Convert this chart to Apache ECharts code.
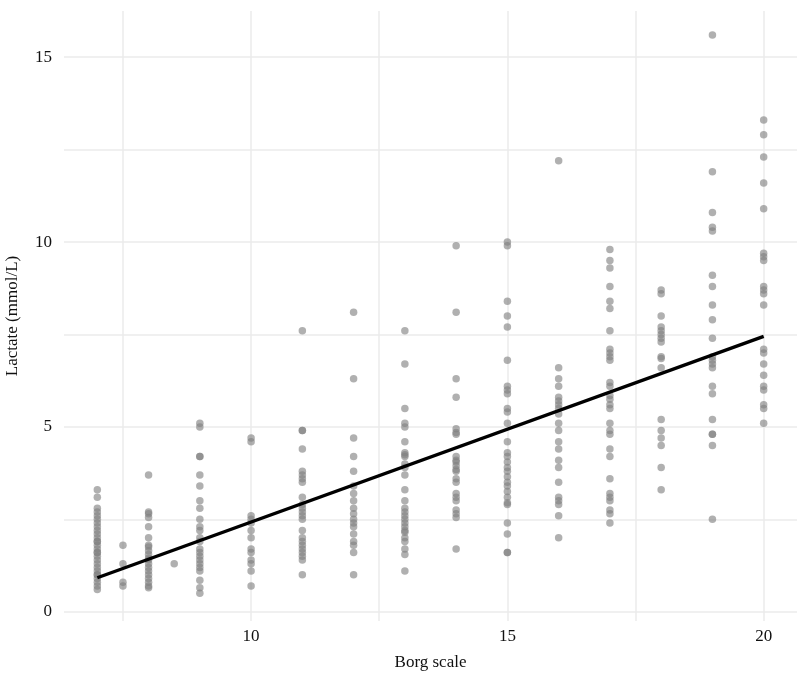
<!DOCTYPE html>
<html>
<head>
<meta charset="utf-8">
<script src="https://cdn.jsdelivr.net/npm/echarts@6/dist/echarts.min.js"></script>
<style>
  html, body { margin: 0; padding: 0; background: #fff; }
  #container { width: 800px; height: 679px; }
</style>
</head>
<body>
<div id="container"></div>
<script>
var dom = document.getElementById('container');
var myChart = echarts.init(dom);

// lactate readings per Borg score
var borg7 = [3.3, 3.1, 2.8, 2.7, 2.6, 2.5, 2.4, 2.2, 2.1, 2.0, 1.9, 1.8, 1.7, 1.6, 1.5, 1.4, 1.3, 1.2, 1.1, 1.0, 0.9, 0.8, 0.7, 0.6, 1.6, 1.9, 1.0, 2.3];
var borg7_5 = [1.8, 1.3, 0.8, 0.7];
var borg8 = [3.7, 2.7, 2.65, 2.55, 2.3, 2.0, 1.8, 1.75, 1.65, 1.55, 1.45, 1.4, 1.3, 1.2, 1.1, 1.0, 0.9, 0.8, 0.7, 0.65];
var borg8_5 = [1.3];
var borg9 = [5.1, 5.0, 4.2, 4.2, 3.7, 3.4, 3.0, 2.8, 2.5, 2.3, 2.2, 2.0, 1.9, 1.7, 1.6, 1.5, 1.4, 1.3, 1.2, 1.1, 0.85, 0.65, 0.5];
var borg10 = [4.7, 4.6, 2.6, 2.5, 2.4, 2.2, 2.0, 1.7, 1.6, 1.4, 1.3, 1.1, 0.7];
var borg11 = [7.6, 4.9, 4.9, 4.4, 3.8, 3.7, 3.6, 3.5, 3.1, 2.9, 2.8, 2.7, 2.6, 2.5, 2.2, 2.0, 1.9, 1.8, 1.7, 1.6, 1.5, 1.4, 1.0];
var borg12 = [8.1, 6.3, 4.7, 4.2, 3.8, 3.4, 3.2, 3.0, 2.8, 2.65, 2.5, 2.4, 2.3, 2.1, 1.9, 1.8, 1.6, 1.0];
var borg13 = [7.6, 6.7, 5.5, 5.1, 5.0, 4.6, 4.3, 4.25, 4.2, 4.0, 3.9, 3.7, 3.3, 3.0, 2.8, 2.7, 2.6, 2.5, 2.4, 2.3, 2.2, 2.15, 2.0, 1.9, 1.7, 1.55, 1.1];
var borg14 = [9.9, 8.1, 6.3, 5.8, 4.95, 4.85, 4.8, 4.2, 4.1, 4.05, 3.95, 3.85, 3.8, 3.6, 3.5, 3.2, 3.1, 3.0, 2.75, 2.65, 2.55, 1.7];
var borg15 = [10.0, 9.9, 8.4, 8.0, 7.7, 6.8, 6.1, 6.0, 5.9, 5.5, 5.4, 5.1, 4.6, 4.3, 4.2, 4.05, 3.9, 3.8, 3.65, 3.5, 3.4, 3.25, 3.1, 2.95, 2.9, 2.4, 2.1, 1.6, 1.6];
var borg16 = [12.2, 6.6, 6.3, 6.1, 5.8, 5.7, 5.6, 5.5, 5.35, 5.1, 4.9, 4.6, 4.4, 4.1, 3.9, 3.5, 3.1, 3.0, 2.9, 2.6, 2.0];
var borg17 = [9.8, 9.5, 9.3, 8.8, 8.4, 8.2, 7.6, 7.1, 7.0, 6.9, 6.8, 6.2, 6.1, 5.85, 5.75, 5.6, 5.5, 5.1, 4.9, 4.8, 4.4, 4.2, 3.6, 3.2, 3.1, 3.0, 2.75, 2.65, 2.4];
var borg18 = [8.7, 8.6, 8.0, 7.7, 7.6, 7.5, 7.4, 7.3, 6.9, 6.85, 6.6, 5.2, 4.9, 4.7, 4.5, 3.9, 3.3];
var borg19 = [15.6, 11.9, 10.8, 10.4, 10.3, 9.1, 8.8, 8.3, 7.9, 7.4, 6.9, 6.8, 6.7, 6.6, 6.1, 5.9, 5.2, 4.8, 4.8, 4.5, 2.5];
var borg20 = [13.3, 12.9, 12.3, 11.6, 10.9, 9.7, 9.6, 9.5, 8.8, 8.7, 8.6, 8.3, 7.1, 7.0, 6.7, 6.4, 6.1, 6.0, 5.6, 5.5, 5.1];

var borgScores = [7, 7.5, 8, 8.5, 9, 10, 11, 12, 13, 14, 15, 16, 17, 18, 19, 20];
var lactateByScore = [borg7, borg7_5, borg8, borg8_5, borg9, borg10, borg11, borg12, borg13, borg14, borg15, borg16, borg17, borg18, borg19, borg20];

// fitted linear trend, end points
var fitX = [7, 20];
var fitY = [0.92, 7.45];

var xTicks = [7.5, 10, 12.5, 15, 17.5, 20];
var xLabels = [10, 15, 20];
var yTicks = [0, 2.5, 5, 7.5, 10, 12.5, 15];
var yLabels = [0, 5, 10, 15];

var points = [];
for (var i = 0; i < borgScores.length; i++) {
    for (var j = 0; j < lactateByScore[i].length; j++) {
        points.push([borgScores[i], lactateByScore[i][j]]);
    }
}
var fitLine = fitX.map(function (x, k) { return [x, fitY[k]]; });

var font = '"Liberation Serif", "DejaVu Serif", serif';
var textColor = '#111';
var gridLine = { show: true, lineStyle: { color: '#ebebeb', width: 1.5 } };

var option = {
    backgroundColor: '#fff',
    animation: false,
    grid: { left: 64, right: 3, top: 11, bottom: 58, containLabel: false, outerBoundsMode: 'none' },
    xAxis: {
        type: 'value',
        min: 6.35,
        max: 20.65,
        name: 'Borg scale',
        nameLocation: 'middle',
        nameGap: 33,
        nameTextStyle: { fontFamily: font, fontSize: 17, color: textColor },
        axisLine: { show: false },
        axisTick: { show: false, customValues: xTicks },
        axisLabel: { customValues: xLabels, fontFamily: font, fontSize: 17, color: textColor, margin: 7 },
        splitLine: gridLine
    },
    yAxis: {
        type: 'value',
        min: -0.25,
        max: 16.25,
        name: 'Lactate (mmol/L)',
        nameLocation: 'middle',
        nameGap: 43,
        nameTextStyle: { fontFamily: font, fontSize: 17, color: textColor },
        axisLine: { show: false },
        axisTick: { show: false, customValues: yTicks },
        axisLabel: { customValues: yLabels, fontFamily: font, fontSize: 17, color: textColor, margin: 12 },
        splitLine: gridLine
    },
    series: [
        {
            type: 'scatter',
            data: points,
            symbolSize: 7.5,
            itemStyle: { color: '#808080', opacity: 0.62 },
            silent: true
        },
        {
            type: 'line',
            data: fitLine,
            showSymbol: false,
            lineStyle: { color: '#000', width: 3.4 },
            silent: true,
            z: 3
        }
    ]
};

myChart.setOption(option);
</script>
</body>
</html>
